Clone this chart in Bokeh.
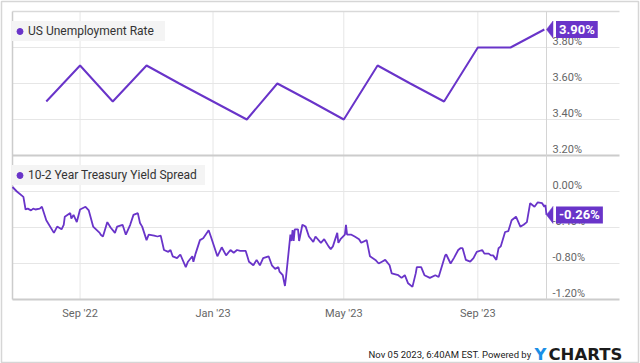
import pandas as pd
from bokeh.plotting import figure
from bokeh.models import Range1d, Legend, LegendItem
from bokeh.core.properties import value
from bokeh.embed import file_html
from bokeh.resources import INLINE

# ---------------- data ----------------
unemp_dates = ["2022-08-01", "2022-09-01", "2022-10-01", "2022-11-01", "2022-12-01",
               "2023-01-01", "2023-02-01", "2023-03-01", "2023-04-01", "2023-05-01",
               "2023-06-01", "2023-07-01", "2023-08-01", "2023-09-01", "2023-10-01",
               "2023-11-01"]
unemp_values = [3.5, 3.7, 3.5, 3.7, 3.6, 3.5, 3.4, 3.6, 3.5, 3.4, 3.7, 3.6, 3.5, 3.8, 3.8, 3.9]

spread_dates = [
    "2022-07-01", "2022-07-05", "2022-07-11", "2022-07-13", "2022-07-15", "2022-07-18",
    "2022-07-20", "2022-07-22", "2022-07-26", "2022-07-28", "2022-08-01", "2022-08-08",
    "2022-08-11", "2022-08-15", "2022-08-17", "2022-08-18", "2022-08-23", "2022-08-24",
    "2022-08-26", "2022-08-29", "2022-09-01", "2022-09-06", "2022-09-09", "2022-09-13",
    "2022-09-19", "2022-09-20", "2022-09-22", "2022-09-26", "2022-09-29", "2022-10-03",
    "2022-10-05", "2022-10-10", "2022-10-13", "2022-10-17", "2022-10-20", "2022-10-24",
    "2022-10-26", "2022-10-28", "2022-11-01", "2022-11-03", "2022-11-08", "2022-11-11",
    "2022-11-14", "2022-11-17", "2022-11-21", "2022-11-23", "2022-11-25", "2022-11-29",
    "2022-12-02", "2022-12-07", "2022-12-09", "2022-12-13", "2022-12-14", "2022-12-16",
    "2022-12-20", "2022-12-23", "2022-12-28", "2022-12-30", "2023-01-05", "2023-01-09",
    "2023-01-13", "2023-01-17", "2023-01-20", "2023-01-23", "2023-01-26", "2023-01-31",
    "2023-02-03", "2023-02-07", "2023-02-10", "2023-02-13", "2023-02-16", "2023-02-21",
    "2023-02-24", "2023-02-27", "2023-03-02", "2023-03-03", "2023-03-06", "2023-03-08",
    "2023-03-09", "2023-03-13", "2023-03-14", "2023-03-15", "2023-03-16", "2023-03-17",
    "2023-03-20", "2023-03-21", "2023-03-24", "2023-03-27", "2023-03-30", "2023-04-03",
    "2023-04-05", "2023-04-10", "2023-04-13", "2023-04-17", "2023-04-19", "2023-04-21",
    "2023-04-25", "2023-04-26", "2023-04-28", "2023-05-02", "2023-05-03", "2023-05-04",
    "2023-05-08", "2023-05-11", "2023-05-15", "2023-05-17", "2023-05-22", "2023-05-25",
    "2023-05-30", "2023-06-02", "2023-06-05", "2023-06-08", "2023-06-12", "2023-06-14",
    "2023-06-20", "2023-06-23", "2023-06-26", "2023-06-29", "2023-07-03", "2023-07-06",
    "2023-07-07", "2023-07-11", "2023-07-14", "2023-07-19", "2023-07-24", "2023-07-27",
    "2023-07-28", "2023-08-02", "2023-08-03", "2023-08-07", "2023-08-10", "2023-08-14",
    "2023-08-16", "2023-08-18", "2023-08-21", "2023-08-25", "2023-08-28", "2023-08-31",
    "2023-09-05", "2023-09-07", "2023-09-11", "2023-09-13", "2023-09-15", "2023-09-18",
    "2023-09-20", "2023-09-22", "2023-09-26", "2023-09-29", "2023-10-02", "2023-10-06",
    "2023-10-10", "2023-10-13", "2023-10-16", "2023-10-19", "2023-10-23", "2023-10-26",
    "2023-10-30", "2023-11-01", "2023-11-02", "2023-11-03"]
spread_values = [
    0.05, 0.00, -0.06, -0.20, -0.19, -0.21,
    -0.19, -0.20, -0.19, -0.17, -0.32, -0.46,
    -0.39, -0.42, -0.37, -0.28, -0.24, -0.30,
    -0.26, -0.34, -0.20, -0.17, -0.21, -0.39,
    -0.46, -0.48, -0.50, -0.34, -0.40, -0.46,
    -0.39, -0.37, -0.48, -0.37, -0.26, -0.24,
    -0.35, -0.39, -0.54, -0.48, -0.49, -0.50,
    -0.49, -0.65, -0.67, -0.65, -0.72, -0.74,
    -0.70, -0.84, -0.78, -0.72, -0.78, -0.69,
    -0.54, -0.52, -0.43, -0.50, -0.72, -0.62,
    -0.71, -0.65, -0.68, -0.65, -0.66, -0.66,
    -0.78, -0.82, -0.76, -0.82, -0.74, -0.72,
    -0.82, -0.86, -0.84, -0.89, -0.93, -1.05,
    -0.95, -0.48, -0.55, -0.43, -0.55, -0.42,
    -0.42, -0.55, -0.37, -0.39, -0.50, -0.56,
    -0.50, -0.57, -0.53, -0.61, -0.64, -0.61,
    -0.46, -0.57, -0.53, -0.48, -0.37, -0.48,
    -0.48, -0.50, -0.53, -0.57, -0.54, -0.72,
    -0.76, -0.80, -0.78, -0.76, -0.82, -0.91,
    -0.93, -0.96, -0.93, -1.02, -1.06, -0.91,
    -0.84, -0.84, -0.93, -0.96, -0.93, -0.95,
    -0.91, -0.71, -0.70, -0.80, -0.74, -0.65,
    -0.63, -0.63, -0.76, -0.78, -0.74, -0.67,
    -0.65, -0.69, -0.69, -0.71, -0.71, -0.76,
    -0.63, -0.61, -0.45, -0.44, -0.32, -0.28,
    -0.39, -0.37, -0.34, -0.13, -0.17, -0.12,
    -0.13, -0.17, -0.15, -0.26]

x_tick_dates = ["2022-09-01", "2023-01-01", "2023-05-01", "2023-09-01"]
x_tick_labels = ["Sep '22", "Jan '23", "May '23", "Sep '23"]
top_ticks = [3.2, 3.4, 3.6, 3.8]
top_labels = ["3.20%", "3.40%", "3.60%", "3.80%"]
top_limits = (3.2, 4.0)
bottom_ticks = [-1.2, -0.8, -0.4, 0.0]
bottom_labels = ["-1.20%", "-0.80%", "-0.40%", "0.00%"]
bottom_limits = (-1.2, 0.4)
top_name = "US Unemployment Rate"
bottom_name = "10-2 Year Treasury Yield Spread"
footer_text = "Nov 05 2023, 6:40AM EST.  Powered by"
logo_a, logo_b = "Y", "CHARTS"

# ---------------- layout (canvas pixels) & styling ----------------
W, H = 640, 363
FX0, FX1, FY0, FY1 = 1, 638, 1, 362          # frame = whole card (outlined)
PX_L, PX_DATA_R, PX_R = 12, 546, 619         # panel left, last-data line, gridline end
PY_T, PY_M, PY_B = 11, 155, 299              # panel top, divider, bottom

PURPLE = "#6934c9"
GRID = "#e6e6e6"
BORDER = "#cccccc"
TICK_TXT = "#666666"

def ms(d):
    return pd.Timestamp(d).value / 1e6

x_first = ms(spread_dates[0])
x_last = ms(spread_dates[-1])
mpp = (x_last - x_first) / (PX_DATA_R - PX_L)
def px2x(px):
    return x_first + (px - PX_L) * mpp

vt = (top_limits[1] - top_limits[0]) / (PY_M - PY_T)
def py2top(py):
    return top_limits[0] + (PY_M - py) * vt

vb = (bottom_limits[1] - bottom_limits[0]) / (PY_B - PY_M)
def py2bot(py):
    return bottom_limits[0] + (PY_B - py) * vb

p = figure(width=W, height=H, x_axis_type=None, y_axis_location=None,
           x_range=Range1d(px2x(FX0), px2x(FX1)),
           y_range=Range1d(py2bot(FY1), py2bot(FY0)),
           output_backend="svg", toolbar_location=None, title=None)
p.extra_y_ranges = {"top": Range1d(py2top(FY1), py2top(FY0))}
p.min_border_left, p.min_border_right = FX0, W - FX1
p.min_border_top, p.min_border_bottom = FY0, H - FY1
p.outline_line_color = "#d6d6d6"
p.outline_line_width = 1.5
p.background_fill_color = "white"
p.border_fill_color = "white"
p.xgrid.visible = False
p.ygrid.visible = False

xl, xr = px2x(PX_L), px2x(PX_R)
tick_x = [ms(d) for d in x_tick_dates]
panel_top_b = py2bot(PY_T)

# gridlines
p.segment(x0=tick_x, x1=tick_x, y0=[bottom_limits[0]] * 4, y1=[panel_top_b] * 4,
          line_color=GRID, line_width=1)
p.segment(x0=[xl] * 3, x1=[xr] * 3, y0=top_ticks[1:], y1=top_ticks[1:],
          y_range_name="top", line_color=GRID, line_width=1)
p.segment(x0=[xl] * 3, x1=[xr] * 3, y0=bottom_ticks[1:], y1=bottom_ticks[1:],
          line_color=GRID, line_width=1)
# panel borders
p.segment(x0=[xl], x1=[xr], y0=[top_limits[1]], y1=[top_limits[1]], y_range_name="top",
          line_color="#d9d9d9", line_width=1.5)
p.segment(x0=[xl, xl], x1=[xr, xr], y0=[bottom_limits[1], bottom_limits[0]],
          y1=[bottom_limits[1], bottom_limits[0]], line_color=BORDER, line_width=2)
p.segment(x0=[xl], x1=[xl], y0=[bottom_limits[0]], y1=[panel_top_b],
          line_color=BORDER, line_width=1.5)
p.segment(x0=[x_last], x1=[x_last], y0=[bottom_limits[0]], y1=[panel_top_b],
          line_color="#d4d4d4", line_width=1)

# series
p.line(pd.to_datetime(unemp_dates), unemp_values, y_range_name="top",
       line_color=PURPLE, line_width=2)
p.line(pd.to_datetime(spread_dates), spread_values, line_color=PURPLE, line_width=1.8)

# x tick labels (below panel)
p.text(x=tick_x, y=[bottom_limits[0]] * 4, text=x_tick_labels, y_offset=14,
       text_align="center", text_baseline="middle",
       text_font=value("Roboto"), text_font_size="11px", text_color=TICK_TXT)

# right-side tick labels
p.text(x=[x_last] * 4, y=top_ticks, text=top_labels, y_range_name="top",
       x_offset=6, y_offset=-6, text_align="left", text_baseline="middle",
       text_font=value("Roboto"), text_font_size="11px", text_color=TICK_TXT)
p.text(x=[x_last] * 4, y=bottom_ticks, text=bottom_labels,
       x_offset=6, y_offset=-6, text_align="left", text_baseline="middle",
       text_font=value("Roboto"), text_font_size="11px", text_color=TICK_TXT)

# last-value flags
def flag(v, rng_name, per_px, txt):
    kw = {"y_range_name": rng_name} if rng_name else {}
    p.patch([x_last, x_last + 6.5 * mpp, x_last + 6.5 * mpp],
            [v, v + 8.5 * per_px, v - 8.5 * per_px],
            fill_color=PURPLE, line_color=PURPLE, line_width=0.5, **kw)
    p.text(x=[x_last], y=[v], text=[txt], x_offset=9.5, y_offset=0,
           text_align="left", text_baseline="middle",
           text_font=value("Roboto"), text_font_style="bold", text_font_size="13px",
           text_color="white", background_fill_color=PURPLE,
           padding=dict(left=3, right=3, top=1, bottom=1), **kw)

flag(unemp_values[-1], "top", vt, "%.2f%%" % unemp_values[-1])
flag(spread_values[-1], None, vb, "%.2f%%" % spread_values[-1])

# legends (marker glyph; size 0 so nothing is drawn in the plot itself)
dot_top = p.scatter(x=[pd.Timestamp(unemp_dates[0])], y=[unemp_values[0]], marker="circle",
                    size=0, color=PURPLE, y_range_name="top")
dot_bot = p.scatter(x=[pd.Timestamp(spread_dates[0])], y=[spread_values[0]], marker="circle",
                    size=0, color=PURPLE)
common = dict(margin=0, padding=5, spacing=0, glyph_width=15, glyph_height=20,
              label_height=20, label_standoff=1, background_fill_color="#f4f4f4",
              background_fill_alpha=1, border_line_color=None,
              label_text_font="Roboto", label_text_font_size="12px",
              label_text_color="#333333")
lt = Legend(items=[LegendItem(label=top_name, renderers=[dot_top])],
            location=(PX_L - FX0, FY1 - PY_T - 30), label_width=137, **common)
lb = Legend(items=[LegendItem(label=bottom_name, renderers=[dot_bot])],
            location=(PX_L - FX0, FY1 - PY_M - 30), label_width=177, **common)
p.add_layout(lt, "center")
p.add_layout(lb, "center")

# footer
p.text(x=[px2x(533)], y=[py2bot(353.5)], text=[footer_text], text_align="right",
       text_baseline="alphabetic", text_font=value("Roboto"), text_font_size="9.5px",
       text_color="#222222")
p.text(x=[px2x(534)], y=[py2bot(354)], text=[logo_a], text_align="left",
       text_baseline="alphabetic", text_font=value("DejaVu Sans"), text_font_style="bold",
       text_font_size="16.5px", text_color="#1a8fe6")
p.text(x=[px2x(548)], y=[py2bot(354)], text=[logo_b], text_align="left",
       text_baseline="alphabetic", text_font=value("DejaVu Sans"), text_font_style="bold",
       text_font_size="16.5px", text_color="#1b1b1b")

open("out.html", "w").write(file_html(p, INLINE))
